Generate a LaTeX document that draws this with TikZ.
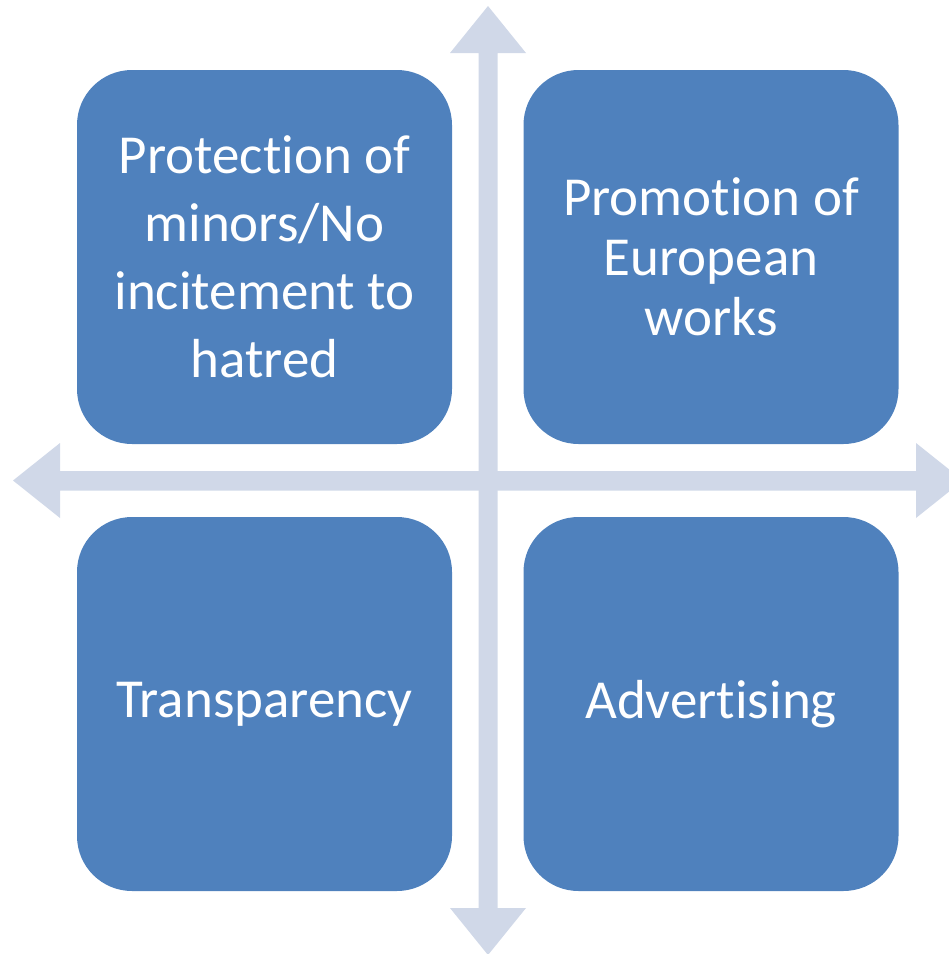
\documentclass[tikz,border=0pt]{standalone}
\usepackage{fontspec}
\setmainfont{Carlito}[RawFeature={-liga;-clig;-dlig;-calt}]
\newcommand{\ligbreak}{\kern0pt }
\definecolor{boxblue}{HTML}{4F81BD}
\definecolor{arrowgray}{HTML}{D0D8E8}
\begin{document}
\begin{tikzpicture}[x=1pt,y=-1pt,
  quad/.style={fill=boxblue, draw=none, rounded corners=55pt, minimum width=375pt, minimum height=374pt, inner sep=0pt, text=white, align=center, font=\fontsize{55}{68}\selectfont},
  axisfill/.style={fill=arrowgray, draw=none}]
\useasboundingbox (0,0) rectangle (949,954);
% vertical double arrow
\fill[axisfill] (488,6) -- (526,53) -- (497.5,53) -- (497.5,908) -- (526,908) -- (488,955) -- (450,908) -- (478.5,908) -- (478.5,53) -- (450,53) -- cycle;
% horizontal double arrow
\fill[axisfill] (13,480.5) -- (60,443) -- (60,471) -- (916,471) -- (916,443) -- (963,480.5) -- (916,518) -- (916,490.5) -- (60,490.5) -- (60,518) -- cycle;
\node[quad] (tl) at (264.5,257) {Protect\ligbreak ion of\\minors/No\\incitement to\\hatred};
\node[quad, font=\fontsize{55}{60}\selectfont] (tr) at (711,257) {Promot\ligbreak ion of\\European\\works};
\node[quad] (bl) at (264.5,704) {Transparency};
\node[quad] (br) at (711,704) {Advert\ligbreak ising};
\end{tikzpicture}
\end{document}
